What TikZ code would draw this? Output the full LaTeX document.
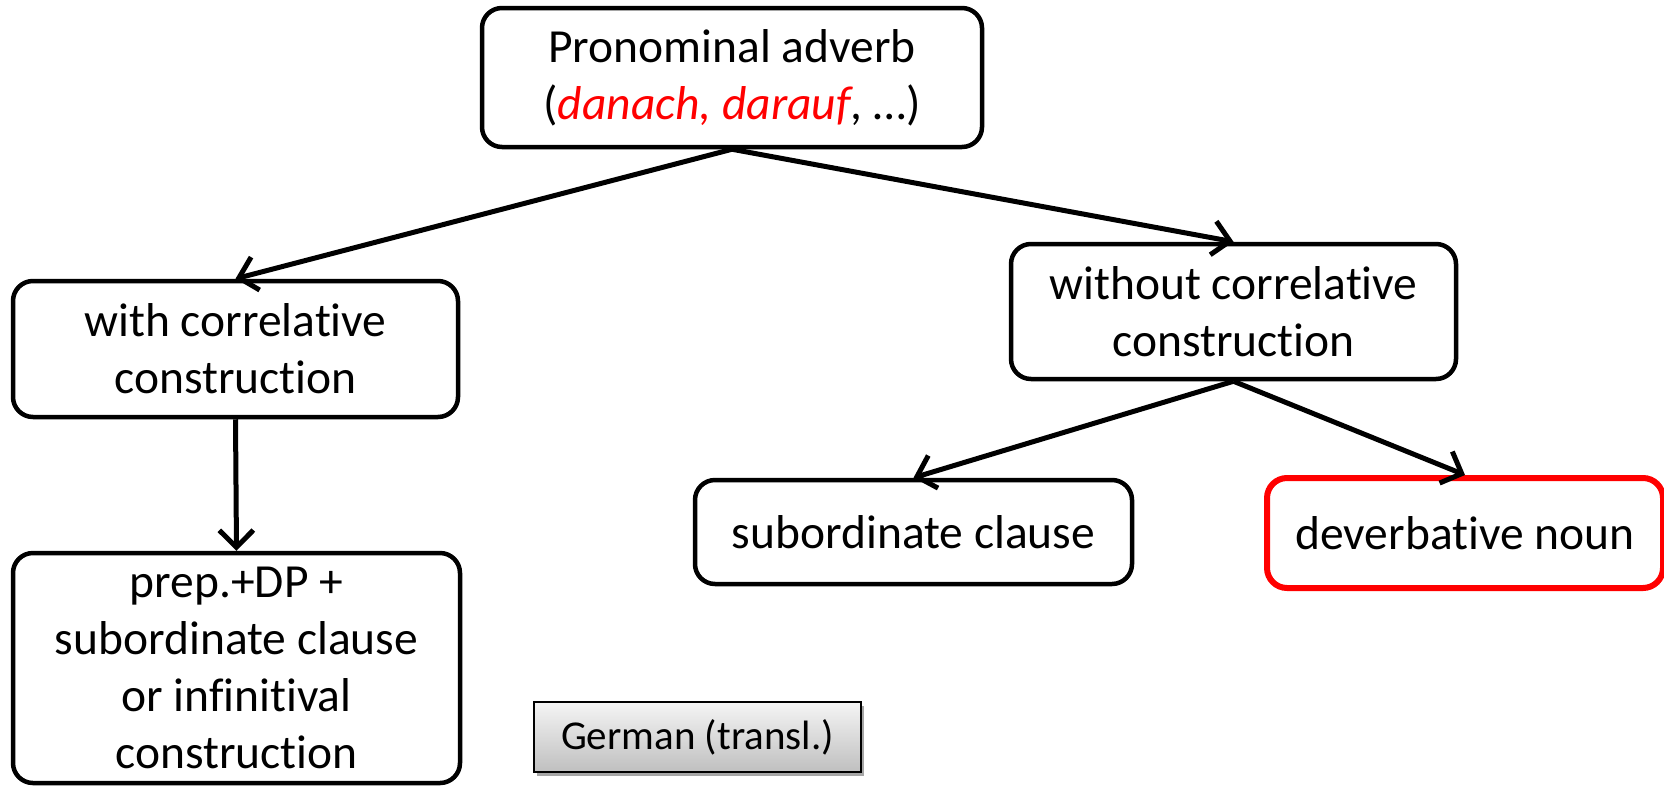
\documentclass[tikz,border=0pt]{standalone}
\usepackage{fontspec}
\setmainfont{Carlito}[Ligatures=NoCommon]
\usetikzlibrary{arrows.meta,shadows}
\begin{document}
\begin{tikzpicture}[x=1pt,y=-1pt,
  box/.style={draw, line width=4.5pt, rounded corners=20pt, align=center, fill=white,
    font=\fontsize{47.5}{57}\selectfont, inner sep=0pt},
  redbox/.style={box, draw=red, line width=6pt,
    drop shadow={shadow xshift=1pt, shadow yshift=-2pt, opacity=0.5, fill=black}},
  legend/.style={draw, line width=1.5pt, align=center, inner sep=0pt,
    top color=gray!8, bottom color=gray!50,
    font=\fontsize{41}{50}\selectfont,
    drop shadow={shadow xshift=3pt, shadow yshift=-4pt, opacity=0.35, fill=black}},
  arr/.style={line width=5pt, -{Straight Barb[length=17pt,width=34pt]}}]
\useasboundingbox (0,0) rectangle (1664,785);
\node[box, minimum width=500pt, minimum height=139pt] (top) at (732,77.5)
  {Pronominal adverb\\(\textcolor{red}{\itshape danach, darauf}, …)};
\node[box, minimum width=445pt, minimum height=136pt] (left) at (235.5,349)
  {with correlative\\construction};
\node[box, minimum width=445pt, minimum height=135pt] (right) at (1233.5,311.5)
  {without correlative\\construction};
\node[box, minimum width=437pt, minimum height=104pt] (sub) at (913.5,532)
  {subordinate clause};
\node[redbox, minimum width=396pt, minimum height=110pt] (dev) at (1465,533)
  {deverbative noun};
\node[box, minimum width=447pt, minimum height=230pt] (prep) at (236.5,668)
  {prep.+DP +\\subordinate clause\\or infinitival\\construction};
\node[legend, minimum width=327pt, minimum height=70pt] (leg) at (697.5,737)
  {German (transl.)};
\draw[arr] (top.south) -- (left.north);
\draw[arr] (top.south) -- (right.north);
\draw[arr] (left.south) -- (prep.north);
\draw[arr] (right.south) -- (sub.north);
\draw[arr] (right.south) -- (dev.north);
\end{tikzpicture}
\end{document}
